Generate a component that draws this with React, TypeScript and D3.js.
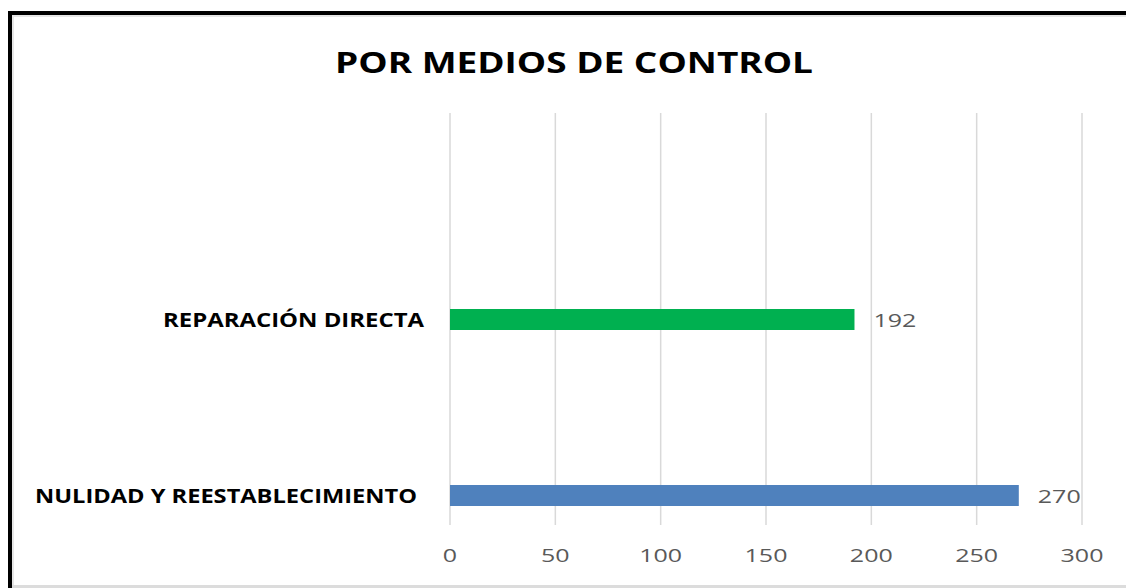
import React from "react";
import * as d3 from "d3";

const title = "POR MEDIOS DE CONTROL";
const categories = ["NULIDAD Y REESTABLECIMIENTO", "REPARACIÓN DIRECTA"];
const values = [270, 192];
const barColors = ["#4F81BD", "#00B050"];
const xTicks = [0, 50, 100, 150, 200, 250, 300];

const W = 1126;
const H = 588;

export default function App() {
  const x = d3.scaleLinear().domain([0, 300]).range([450, 1082]);
  const y = d3.scalePoint<string>().domain(categories).range([583.5, 231.5]).padding(0.5);
  const barH = 21;
  const font = "'Open Sans', 'Liberation Sans', sans-serif";
  const digitW = 14.3;
  const labelRight = [417, 424];
  const labelWidth = [382, 261];

  return (
    <svg
      width={W}
      height={H}
      style={{ position: "absolute", left: 0, top: 0, background: "#fff" }}
    >
      <rect x={0} y={0} width={W} height={H} fill="#fff" />
      {/* frame */}
      <rect x={12} y={15} width={W} height={2} fill="#e6e6e6" />
      <rect x={12} y={15} width={2} height={H} fill="#e6e6e6" />
      <rect x={8} y={11} width={W} height={4} fill="#000" />
      <rect x={8} y={11} width={4} height={H} fill="#000" />
      <rect x={12} y={585} width={W} height={3} fill="#dcdcdc" />

      <text
        x={335}
        y={73}
        fontFamily={font}
        fontWeight={700}
        fontSize={28}
        fill="#000"
        textLength={478}
        lengthAdjust="spacingAndGlyphs"
      >
        {title}
      </text>

      {xTicks.map((t) => {
        const s = String(t);
        const w = s.length * digitW;
        return (
          <g key={t}>
            <line x1={x(t)} x2={x(t)} y1={113} y2={525} stroke="#d9d9d9" strokeWidth={1.5} />
            <text
              x={x(t) - w / 2}
              y={562}
              fontFamily={font}
              fontSize={18}
              fill="#595959"
              textLength={w}
              lengthAdjust="spacingAndGlyphs"
            >
              {s}
            </text>
          </g>
        );
      })}

      {categories.map((c, i) => {
        const cy = y(c) as number;
        const vs = String(values[i]);
        return (
          <g key={c}>
            <rect
              x={x(0)}
              y={cy - barH / 2}
              width={x(values[i]) - x(0)}
              height={barH}
              fill={barColors[i]}
            />
            <text
              x={x(values[i]) + 19}
              y={cy + 7}
              fontFamily={font}
              fontSize={18}
              fill="#595959"
              textLength={vs.length * digitW}
              lengthAdjust="spacingAndGlyphs"
            >
              {vs}
            </text>
            <text
              x={labelRight[i] - labelWidth[i]}
              y={cy + 7}
              fontFamily={font}
              fontWeight={700}
              fontSize={19}
              fill="#000"
              textLength={labelWidth[i]}
              lengthAdjust="spacingAndGlyphs"
            >
              {c}
            </text>
          </g>
        );
      })}
    </svg>
  );
}
